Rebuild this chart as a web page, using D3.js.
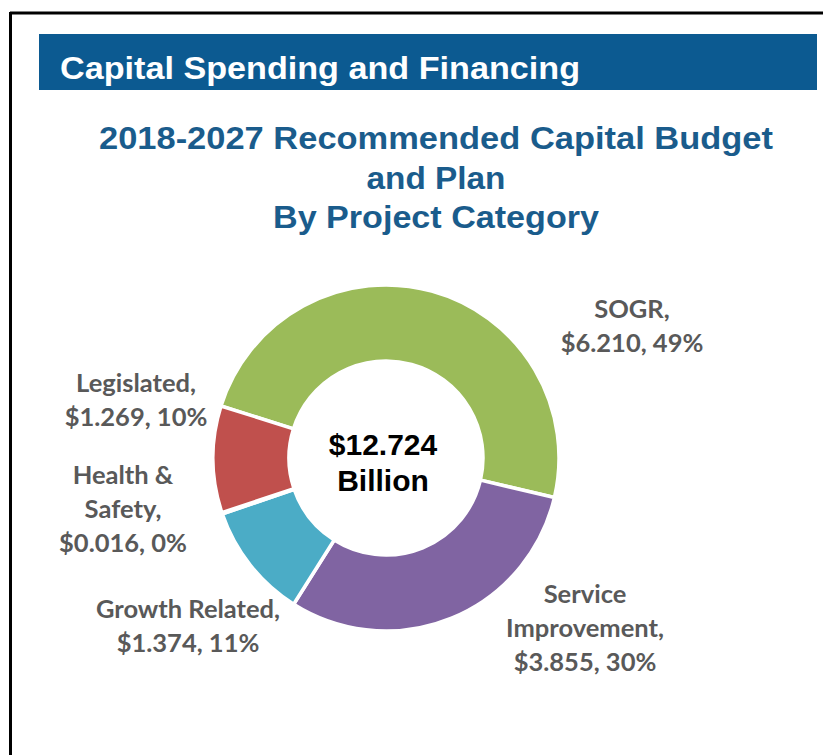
<!DOCTYPE html>
<html>
<head>
<meta charset="utf-8">
<script src="https://cdn.jsdelivr.net/npm/d3@7"></script>
<style>
body{margin:0;background:#fff;}
svg{display:block;}
</style>
</head>
<body>
<script>
// DATA
var categories=["SOGR","Service Improvement","Growth Related","Health & Safety","Legislated"];
var values=[6.210,3.855,1.374,0.016,1.269];
var percents=["49%","30%","11%","0%","10%"];
var colors=["#9bbb59","#8064a2","#4bacc6","#4bacc6","#c0504d"];
var labelLines=[
  ["SOGR,","$6.210, 49%"],
  ["Service","Improvement,","$3.855, 30%"],
  ["Growth Related,","$1.374, 11%"],
  ["Health &","Safety,","$0.016, 0%"],
  ["Legislated,","$1.269, 10%"]
];
var total="$12.724";

// LAYOUT
var width=823,height=755;
var cx=386,cy=458,rOuter=173,rInner=97;
var labelPos=[[632,318],[585,603],[188,618],[123,484],[136,392]];
var lineH=34;

var svg=d3.select("body").append("svg")
  .attr("width",width).attr("height",height);

// frame
svg.append("line").attr("x1",10).attr("x2",width).attr("y1",13).attr("y2",13)
  .attr("stroke","#000").attr("stroke-width",3);
svg.append("line").attr("x1",10.5).attr("x2",10.5).attr("y1",12).attr("y2",height)
  .attr("stroke","#000").attr("stroke-width",3);

// banner
svg.append("rect").attr("x",39).attr("y",34).attr("width",778).attr("height",56)
  .attr("fill","#0c5a91");
svg.append("text").attr("x",60).attr("y",79)
  .attr("font-family","Liberation Sans, Arial, sans-serif")
  .attr("font-weight","bold").attr("font-size",31)
  .attr("textLength",520).attr("lengthAdjust","spacingAndGlyphs")
  .attr("fill","#fff").text("Capital Spending and Financing");

// title
var title=["2018-2027 Recommended Capital Budget","and Plan","By Project Category"];
var titleW=[674,139,326];
svg.append("g").selectAll("text").data(title).enter().append("text")
  .attr("x",436).attr("y",function(d,i){return 149+i*39.5;})
  .attr("text-anchor","middle")
  .attr("font-family","Liberation Sans, Arial, sans-serif")
  .attr("font-weight","bold").attr("font-size",31)
  .attr("textLength",function(d,i){return titleW[i];}).attr("lengthAdjust","spacingAndGlyphs")
  .attr("fill","#1a5c8c").text(function(d){return d;});

// donut
var data=categories.map(function(c,i){return {name:c,value:values[i],color:colors[i]};});
var startA=-72.5*Math.PI/180;
var pie=d3.pie().value(function(d){return d.value;}).sort(null)
  .startAngle(startA).endAngle(startA+2*Math.PI);
var arc=d3.arc().innerRadius(rInner).outerRadius(rOuter);

var g=svg.append("g").attr("transform","translate("+cx+","+cy+")");
g.selectAll("path").data(pie(data)).enter().append("path")
  .attr("d",arc)
  .attr("fill",function(d){return d.data.color;})
  .attr("stroke","#fff").attr("stroke-width",3.5);

g.append("text").attr("x",-3).attr("y",-3).attr("text-anchor","middle")
  .attr("font-family","Liberation Sans, Arial, sans-serif")
  .attr("font-weight","bold").attr("font-size",30).attr("fill","#000").text(total);
g.append("text").attr("x",-3).attr("y",33).attr("text-anchor","middle")
  .attr("font-family","Liberation Sans, Arial, sans-serif")
  .attr("font-weight","bold").attr("font-size",30).attr("fill","#000").text("Billion");

// labels
var lg=svg.append("g");
labelLines.forEach(function(lines,i){
  var t=lg.append("text")
    .attr("text-anchor","middle")
    .attr("font-family","Lato, 'Open Sans', sans-serif")
    .attr("font-weight","bold").attr("font-size",25.5)
    .attr("fill","#595959");
  lines.forEach(function(l,j){
    t.append("tspan").attr("x",labelPos[i][0]).attr("y",labelPos[i][1]+j*lineH).text(l);
  });
});
</script>
</body>
</html>
